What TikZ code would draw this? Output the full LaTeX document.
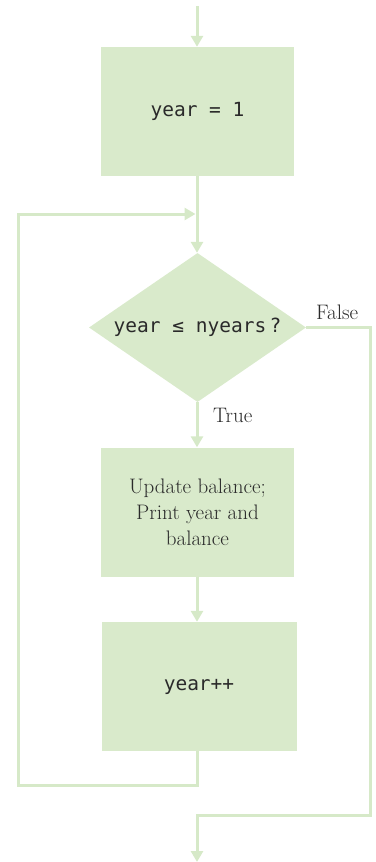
\documentclass[tikz,border=0pt]{standalone}
\usepackage{fontspec}
\newfontfamily\codefont{DejaVu Sans Mono}
\usetikzlibrary{arrows.meta,shapes.geometric}
\definecolor{boxgreen}{HTML}{D9EACB}
\definecolor{linegreen}{HTML}{D6E9C8}
\definecolor{ink}{HTML}{2A2A2A}
\tikzset{
  procbox/.style={rectangle,fill=boxgreen,draw=none,inner sep=0pt,
    minimum width=193pt,minimum height=129pt,text=ink,align=center},
  decision/.style={diamond,fill=boxgreen,draw=none,inner sep=0pt,aspect=1.456,
    minimum width=217pt,minimum height=149pt},
  codetext/.style={font=\codefont\fontsize{19.5}{23}\selectfont,text=ink},
  serif/.style={font=\fontsize{21}{26}\selectfont,text=ink},
  conn/.style={draw=linegreen,line width=3pt},
  arr/.style={conn,-{Triangle[width=12pt,length=11pt]}},
}
\begin{document}
\begin{tikzpicture}[x=1pt,y=-1pt]
\useasboundingbox (0,0) rectangle (375,862);
% nodes
\node[procbox,codetext] (init) at (197.5,111.5) {year = 1};
\node[decision] (test) at (197.5,327.5) {};
\node[codetext,inner sep=0pt] (testtext) at (197.5,327.5) {year ≤ nyears\,?};
\node[procbox,serif] (update) at (197.5,512) {Update balance;\\Print year and\\balance};
\node[procbox,codetext,minimum width=195pt] (incr) at (199,686.5) {year++};
\node[serif,anchor=west,inner sep=0pt] (lfalse) at (316,312) {False};
\node[serif,anchor=west,inner sep=0pt] (ltrue) at (213,415) {True};
% coordinates
\coordinate (start) at (197,6);
\coordinate (join) at (197,214);
\coordinate (loopbl) at (18,785);
\coordinate (loopbr) at (197,785);
\coordinate (loopt) at (18,214);
\coordinate (fr) at (370,327.5);
\coordinate (frb) at (370,815);
\coordinate (fb) at (197,815);
\coordinate (finish) at (197,862);
% connectors
\draw[arr] (start) -- (start |- init.north);
\draw[arr] (start |- init.south) -- (start |- test.north);
\draw[arr] (start |- test.south) -- (start |- update.north);
\draw[arr] (start |- update.south) -- (start |- incr.north);
\draw[arr,shorten >=1.5pt] (start |- incr.south) -- (loopbr) -- (loopbl) -- (loopt) -- (join);
\draw[arr] (test.east) -- (fr) -- (frb) -- (fb) -- (finish);
\end{tikzpicture}
\end{document}
